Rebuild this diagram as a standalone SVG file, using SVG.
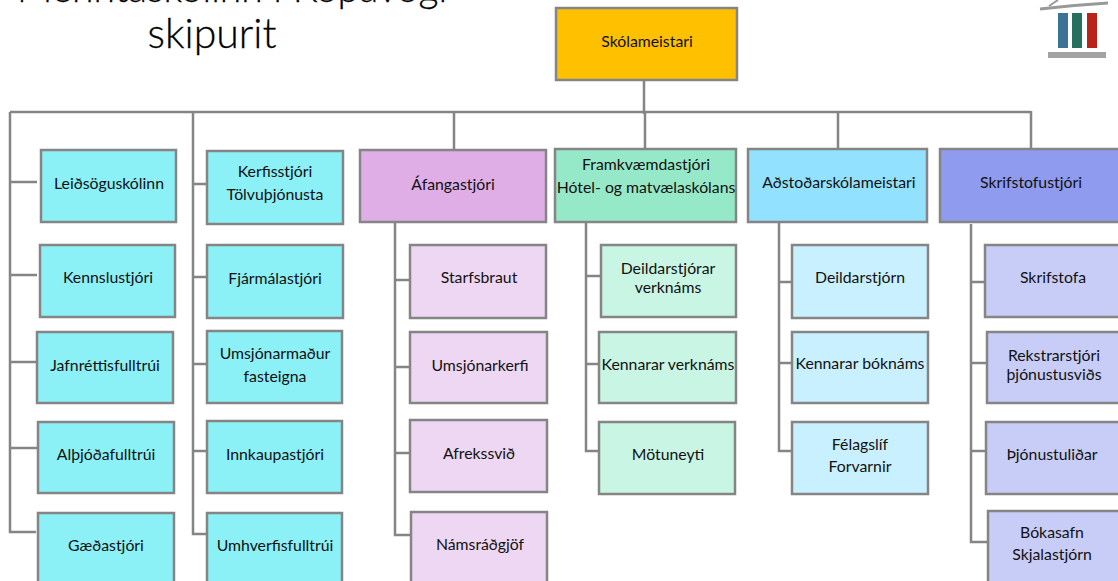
<svg xmlns="http://www.w3.org/2000/svg" width="1118" height="581" viewBox="0 0 1118 581">
<style>
.n{stroke:#858585;stroke-width:2.5}
.c{fill:none;stroke:#858585;stroke-width:2.5}
.t{font-family:"Lato","Open Sans",sans-serif;font-size:15.8px;fill:#111;text-anchor:middle}
.h{font-family:"Lato","Open Sans",sans-serif;font-weight:300;font-size:41px;fill:#000;stroke:#000;stroke-width:.3;text-anchor:middle}
.a{fill:#8cf0f7}.p{fill:#eed7f3}.g{fill:#c9f5e4}.b{fill:#c9f0ff}.v{fill:#c7cdf7}
</style>
<rect width="1118" height="581" fill="#fff"/>
<text class="h" x="232" y="2" style="font-size:39px">Menntaskólinn í Kópavogi</text>
<text class="h" x="212" y="48">skipurit</text>
<g id="logo">
<path d="M1040 9 Q1075 5 1108 3" fill="none" stroke="#999" stroke-width="3"/>
<path d="M1049 6 L1058 0" fill="none" stroke="#999" stroke-width="2"/>
<rect x="1058" y="13" width="10" height="35" fill="#3c7395"/>
<rect x="1072" y="13" width="10" height="35" fill="#26705f"/>
<rect x="1087" y="13" width="10" height="35" fill="#b92318"/>
<rect x="1048" y="52" width="58" height="6" fill="#a3a3a3"/>
</g>
<g id="connectors">
<path class="c" d="M644 80V114M10 112H1031M1031 111V153M838 112V149M645 112V149M454 112V150M193 112V534H206M10 112V532H36"/>
<path class="c" d="M10 182H37M10 275H37M10 362H37M10 448H38M193 184H206M193 277H206M193 364H206M193 451H206"/>
<path class="c" d="M395 222V535H411M395 280H410M395 367H410M395 453H410"/>
<path class="c" d="M586 222V451H599M586 276H601M586 364H599"/>
<path class="c" d="M779 222V451H792M779 282H792M779 363H792"/>
<path class="c" d="M971 224V542H988M971 282H985M971 363H987M971 451H986"/>
</g>
<g id="n0"><rect class="n" x="556" y="8" width="181" height="72" fill="#ffc000"/><text class="t" x="647" y="47">Skólameistari</text></g>
<g id="n1"><rect class="n a" x="41" y="150" width="135" height="72"/><text class="t" x="109" y="189">Leiðsöguskólinn</text></g>
<g id="n2"><rect class="n a" x="40" y="245" width="135" height="72"/><text class="t" x="108" y="283">Kennslustjóri</text></g>
<g id="n3"><rect class="n a" x="37" y="332" width="136" height="71"/><text class="t" x="105" y="371">Jafnréttisfulltrúi</text></g>
<g id="n4"><rect class="n a" x="38" y="422" width="136" height="71"/><text class="t" x="106" y="460">Alþjóðafulltrúi</text></g>
<g id="n5"><rect class="n a" x="38" y="513" width="136" height="72"/><text class="t" x="106" y="551">Gæðastjóri</text></g>
<g id="n6"><rect class="n a" x="207" y="151" width="136" height="73"/><text class="t" x="275" y="177">Kerfisstjóri</text><text class="t" x="275" y="200">Tölvuþjónusta</text></g>
<g id="n7"><rect class="n a" x="207" y="245" width="136" height="73"/><text class="t" x="275" y="284">Fjármálastjóri</text></g>
<g id="n8"><rect class="n a" x="207" y="331" width="135" height="72"/><text class="t" x="275" y="359">Umsjónarmaður</text><text class="t" x="275" y="382">fasteigna</text></g>
<g id="n9"><rect class="n a" x="207" y="421" width="135" height="72"/><text class="t" x="275" y="460">Innkaupastjóri</text></g>
<g id="n10"><rect class="n a" x="207" y="513" width="135" height="72"/><text class="t" x="275" y="551">Umhverfisfulltrúi</text></g>
<g id="n11"><rect class="n" x="360" y="150" width="186" height="72" fill="#dfaee6"/><text class="t" x="453" y="190">Áfangastjóri</text></g>
<g id="n12"><rect class="n p" x="410" y="245" width="136" height="73"/><text class="t" x="479" y="283">Starfsbraut</text></g>
<g id="n13"><rect class="n p" x="410" y="332" width="137" height="71"/><text class="t" x="480" y="371">Umsjónarkerfi</text></g>
<g id="n14"><rect class="n p" x="410" y="420" width="137" height="72"/><text class="t" x="479" y="459">Afrekssvið</text></g>
<g id="n15"><rect class="n p" x="411" y="512" width="136" height="73"/><text class="t" x="480" y="550">Námsráðgjöf</text></g>
<g id="n16"><rect class="n" x="555" y="149" width="181" height="73" fill="#96e9c8"/><text class="t" x="646" y="170">Framkvæmdastjóri</text><text class="t" x="646" y="193">Hótel- og matvælaskólans</text></g>
<g id="n17"><rect class="n g" x="601" y="245" width="135" height="72"/><text class="t" x="668" y="274">Deildarstjórar</text><text class="t" x="668" y="293">verknáms</text></g>
<g id="n18"><rect class="n g" x="599" y="332" width="137" height="71"/><text class="t" x="668" y="370">Kennarar verknáms</text></g>
<g id="n19"><rect class="n g" x="599" y="422" width="136" height="72"/><text class="t" x="668" y="460">Mötuneyti</text></g>
<g id="n20"><rect class="n" x="748" y="149" width="179" height="73" fill="#91e1ff"/><text class="t" x="839" y="188">Aðstoðarskólameistari</text></g>
<g id="n21"><rect class="n b" x="792" y="245" width="136" height="73"/><text class="t" x="860" y="283">Deildarstjórn</text></g>
<g id="n22"><rect class="n b" x="792" y="332" width="136" height="71"/><text class="t" x="860" y="369">Kennarar bóknáms</text></g>
<g id="n23"><rect class="n b" x="792" y="422" width="136" height="72"/><text class="t" x="860" y="450">Félagslíf</text><text class="t" x="860" y="472">Forvarnir</text></g>
<g id="n24"><rect class="n" x="940" y="149" width="190" height="73" fill="#8f9bee"/><text class="t" x="1031" y="188">Skrifstofustjóri</text></g>
<g id="n25"><rect class="n v" x="985" y="245" width="145" height="72"/><text class="t" x="1053" y="283">Skrifstofa</text></g>
<g id="n26"><rect class="n v" x="987" y="332" width="143" height="71"/><text class="t" x="1054" y="361">Rekstrarstjóri</text><text class="t" x="1054" y="380">þjónustusviðs</text></g>
<g id="n27"><rect class="n v" x="986" y="422" width="144" height="72"/><text class="t" x="1052" y="460">Þjónustuliðar</text></g>
<g id="n28"><rect class="n v" x="988" y="511" width="142" height="75"/><text class="t" x="1052" y="538">Bókasafn</text><text class="t" x="1052" y="560">Skjalastjórn</text></g>
</svg>
